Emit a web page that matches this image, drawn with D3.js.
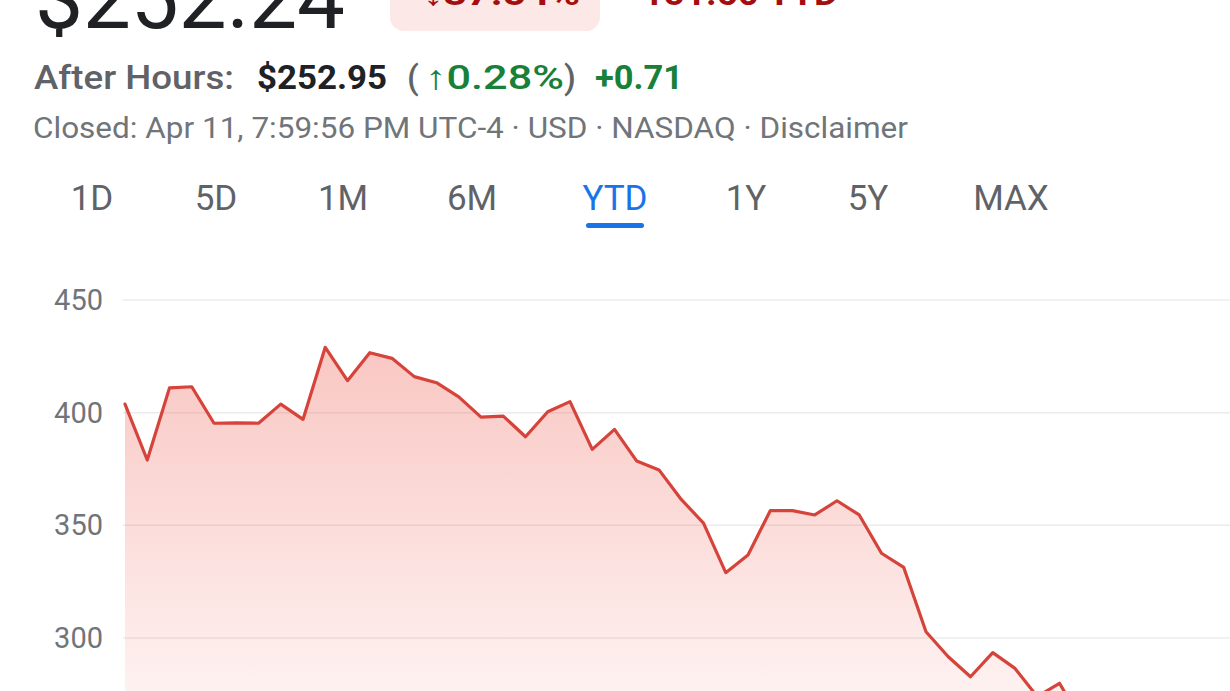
<!DOCTYPE html>
<html>
<head>
<meta charset="utf-8">
<script src="https://cdn.jsdelivr.net/npm/d3@7"></script>
<style>
  html, body { margin: 0; padding: 0; background: #fff; overflow: hidden; }
  svg { display: block; font-family: Roboto, "Noto Sans", sans-serif; }
</style>
</head>
<body>
<svg id="chart" width="1230" height="691"></svg>
<script>
// ---- data ----
const dates = ["Dec 31","Jan 2","Jan 3","Jan 6","Jan 7","Jan 8","Jan 10","Jan 13","Jan 14","Jan 15",
  "Jan 16","Jan 17","Jan 21","Jan 22","Jan 23","Jan 24","Jan 27","Jan 28","Jan 29","Jan 30","Jan 31",
  "Feb 3","Feb 4","Feb 5","Feb 6","Feb 7","Feb 10","Feb 11","Feb 12","Feb 13","Feb 14","Feb 18",
  "Feb 19","Feb 20","Feb 21","Feb 24","Feb 25","Feb 26","Feb 27","Feb 28","Mar 3","Mar 4","Mar 5","Mar 6"];
const prices = [403.8,379.0,411.0,411.5,395.3,395.5,395.3,403.8,397.0,429.0,
  414.2,426.6,424.1,416.0,413.3,407.0,398.0,398.5,389.3,400.4,404.9,
  383.7,392.6,378.5,374.6,361.5,351.0,329.0,336.8,356.5,356.5,354.6,
  360.9,354.6,337.6,331.3,302.8,291.7,282.8,293.5,286.5,274.0,279.9,263.0];
const yTicks = [300, 350, 400, 450];
const ranges = ["1D","5D","1M","6M","YTD","1Y","5Y","MAX"];
const activeRange = "YTD";
const price = "$252.24";
const changePct = "↓37.54%";
const changeAbs = "−151.60 YTD";
const afterLabel = "After Hours:";
const afterPrice = "$252.95";
const afterPct = "↑0.28%";
const afterAbs = "+0.71";
const closedLine = "Closed: Apr 11, 7:59:56 PM UTC-4 · USD · NASDAQ · Disclaimer";

// ---- layout ----
const W = 1230, H = 691;
const svg = d3.select("#chart");
const plotLeft = 125, step = 22.25;

function fitText(sel, len) {
  return sel.attr("textLength", len).attr("lengthAdjust", "spacingAndGlyphs");
}

// header
fitText(svg.append("text").attr("x", 35).attr("y", 28)
  .attr("font-size", 85).attr("fill", "#202124").text(price), 310);

svg.append("rect").attr("x", 390).attr("y", -30).attr("width", 210).attr("height", 61)
  .attr("rx", 14).attr("fill", "#fce8e6");
fitText(svg.append("text").attr("x", 423).attr("y", 5)
  .attr("font-size", 33).attr("font-weight", 700).attr("fill", "#a50e0e").text(changePct), 157);
fitText(svg.append("text").attr("x", 622).attr("y", 5)
  .attr("font-size", 33).attr("font-weight", 700).attr("fill", "#a50e0e").text(changeAbs), 216);

const ahY = 89;
fitText(svg.append("text").attr("x", 34).attr("y", ahY).attr("font-size", 34).attr("font-weight", 500)
  .attr("fill", "#5f6368").text(afterLabel), 200);
fitText(svg.append("text").attr("x", 257).attr("y", ahY).attr("font-size", 34).attr("font-weight", 700)
  .attr("fill", "#202124").text(afterPrice), 130);
svg.append("text").attr("x", 407).attr("y", ahY).attr("font-size", 34).attr("font-weight", 500)
  .attr("fill", "#5f6368").text("(");
fitText(svg.append("text").attr("x", 425).attr("y", ahY).attr("font-size", 34).attr("font-weight", 500)
  .attr("fill", "#188038").text(afterPct), 139);
svg.append("text").attr("x", 564).attr("y", ahY).attr("font-size", 34).attr("font-weight", 500)
  .attr("fill", "#5f6368").text(")");
fitText(svg.append("text").attr("x", 595).attr("y", ahY).attr("font-size", 34).attr("font-weight", 700)
  .attr("fill", "#188038").text(afterAbs), 88);

fitText(svg.append("text").attr("x", 33).attr("y", 138).attr("font-size", 29)
  .attr("fill", "#70757a").text(closedLine), 875);

// range tabs
const tabCenters = [92, 216, 343, 472, 615, 746, 868, 1011];
const tabScale = d3.scaleOrdinal().domain(ranges).range(tabCenters);
svg.append("g").selectAll("text").data(ranges).join("text")
  .attr("x", d => tabScale(d)).attr("y", 210).attr("text-anchor", "middle")
  .attr("font-size", 35).attr("font-weight", 400)
  .attr("fill", d => d === activeRange ? "#1a73e8" : "#5f6368")
  .text(d => d);
svg.append("rect").attr("x", tabScale(activeRange) - 29).attr("y", 223)
  .attr("width", 58).attr("height", 5).attr("rx", 2.5).attr("fill", "#1a73e8");

// scales
const x = d3.scalePoint().domain(dates).range([plotLeft, plotLeft + step * (dates.length - 1)]);
const y = d3.scaleLinear().domain([300, 450]).range([638, 300]);

// gridlines + labels
const grid = svg.append("g");
grid.selectAll("line").data(yTicks).join("line")
  .attr("x1", plotLeft - 2).attr("x2", W)
  .attr("y1", d => y(d)).attr("y2", d => y(d))
  .attr("stroke", "#ececec").attr("stroke-width", 1.5);
grid.selectAll("text").data(yTicks).join("text")
  .attr("x", 103).attr("y", d => y(d)).attr("dy", "0.35em")
  .attr("text-anchor", "end").attr("font-size", 29).attr("fill", "#70757a")
  .text(d => d);

// gradient
const defs = svg.append("defs");
const grad = defs.append("linearGradient").attr("id", "fillGrad")
  .attr("gradientUnits", "userSpaceOnUse")
  .attr("x1", 0).attr("x2", 0).attr("y1", y(430)).attr("y2", 800);
grad.append("stop").attr("offset", 0).attr("stop-color", "#ea4335").attr("stop-opacity", 0.3);
grad.append("stop").attr("offset", 1).attr("stop-color", "#ea4335").attr("stop-opacity", 0.0);

const series = dates.map((d, i) => ({ d, v: prices[i] }));
const area = d3.area().x(p => x(p.d)).y0(H + 60).y1(p => y(p.v));
const line = d3.line().x(p => x(p.d)).y(p => y(p.v));

svg.append("path").datum(series).attr("d", area).attr("fill", "url(#fillGrad)");
svg.append("path").datum(series).attr("d", line)
  .attr("fill", "none").attr("stroke", "#d6433a").attr("stroke-width", 3.2)
  .attr("stroke-linejoin", "round").attr("stroke-linecap", "round");
</script>
</body>
</html>
